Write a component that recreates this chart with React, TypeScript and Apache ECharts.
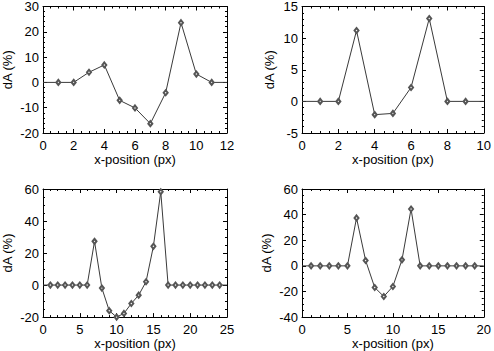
import React, { useEffect, useRef } from "react";
import * as echarts from "echarts";

// dA (%) values at x = 0,1,2,... (px)
const P1_Y = [0, 0, 0, 4.0, 6.9, -7.1, -10.1, -16.3, -4.1, 23.6, 3.3, 0, 0];
const P2_Y = [0, 0, 0, 11.2, -2.1, -1.9, 2.2, 13.1, 0, 0, 0];
const P3_Y = [0, 0, 0, 0, 0, 0, 0, 27.3, -1.9, -16.0, -20.0, -17.7, -11.5, -6.3, 2.1, 24.2, 58.3, 0, 0, 0, 0, 0, 0, 0, 0, 0];
const P4_Y = [0, 0, 0, 0, 0, 0, 37.4, 4.2, -16.9, -23.9, -16.1, 4.7, 44.4, 0, 0, 0, 0, 0, 0, 0, 0];

const X_TITLE = "x-position (px)";
const Y_TITLE = "dA (%)";

const AXES = [
  { xMax: 12, xInt: 2, xMinor: 4, yMin: -20, yMax: 30, yInt: 10, yMinor: 5 },
  { xMax: 10, xInt: 2, xMinor: 4, yMin: -5, yMax: 15, yInt: 5, yMinor: 5 },
  { xMax: 25, xInt: 5, xMinor: 5, yMin: -20, yMax: 60, yInt: 20, yMinor: 4 },
  { xMax: 20, xInt: 5, xMinor: 5, yMin: -40, yMax: 60, yInt: 20, yMinor: 4 },
];
const SERIES = [P1_Y, P2_Y, P3_Y, P4_Y];

const LAYOUT = [
  { left: 42, top: 3, yGap: 29 },
  { left: 302, top: 3, yGap: 26 },
  { left: 42, top: 189, yGap: 29 },
  { left: 302, top: 189, yGap: 29 },
];

const FONT = "'Liberation Sans', Arial, Helvetica, sans-serif";
const INK = "#000";
const LINE = "#3a3a3a";

export default function App() {
  const ref = useRef<HTMLDivElement>(null);
  useEffect(() => {
    if (!ref.current) return;
    const chart = echarts.init(ref.current, undefined, { renderer: "svg" });
    const grids: any[] = [];
    const xAxes: any[] = [];
    const yAxes: any[] = [];
    const series: any[] = [];
    const lbl = { fontSize: 13, color: INK, fontFamily: FONT };
    AXES.forEach((a, i) => {
      const L = LAYOUT[i];
      grids.push({ left: L.left, top: L.top, width: 185, height: 130, containLabel: false });
      const tick = { show: true, inside: true, length: 4, lineStyle: { color: INK, width: 1 } };
      const minor = (n: number) => ({ show: true, splitNumber: n, length: 2, lineStyle: { color: INK, width: 1 } });
      const line = { show: true, onZero: false, lineStyle: { color: INK, width: 1 } };
      const xBase = {
        type: "value", gridIndex: i, min: 0, max: a.xMax, interval: a.xInt,
        axisLine: line, axisTick: tick, minorTick: minor(a.xMinor), splitLine: { show: false },
      };
      xAxes.push({
        ...xBase, position: "bottom",
        axisLabel: { ...lbl, margin: 6, showMinLabel: true, showMaxLabel: true },
        name: X_TITLE, nameLocation: "middle", nameGap: 18, nameTextStyle: { ...lbl },
      });
      xAxes.push({ ...xBase, position: "top", axisLabel: { show: false } });
      const yBase = {
        type: "value", gridIndex: i, min: a.yMin, max: a.yMax, interval: a.yInt,
        axisLine: line, axisTick: tick, minorTick: minor(a.yMinor), splitLine: { show: false },
      };
      yAxes.push({
        ...yBase, position: "left",
        axisLabel: { ...lbl, margin: 4, showMinLabel: true, showMaxLabel: true },
        name: Y_TITLE, nameLocation: "middle", nameGap: L.yGap, nameRotate: 90, nameTextStyle: { ...lbl },
      });
      yAxes.push({ ...yBase, position: "right", axisLabel: { show: false } });
      const ys = SERIES[i];
      series.push({
        type: "line",
        xAxisIndex: i * 2,
        yAxisIndex: i * 2,
        clip: true,
        data: ys.map((v, k) => ({
          value: [k, v],
          symbol: k === 0 || k === ys.length - 1 ? "none" : "emptyDiamond",
        })),
        symbolSize: [4, 5],
        lineStyle: { color: LINE, width: 1 },
        itemStyle: { color: "#555", borderWidth: 1 },
        silent: true,
      });
    });
    chart.setOption({
      animation: false,
      backgroundColor: "#fff",
      grid: grids,
      xAxis: xAxes,
      yAxis: yAxes,
      series,
    });
    return () => chart.dispose();
  }, []);
  return (
    <div
      ref={ref}
      style={{ position: "absolute", left: 0, top: 0, width: 494, height: 351, background: "#fff" }}
    />
  );
}
